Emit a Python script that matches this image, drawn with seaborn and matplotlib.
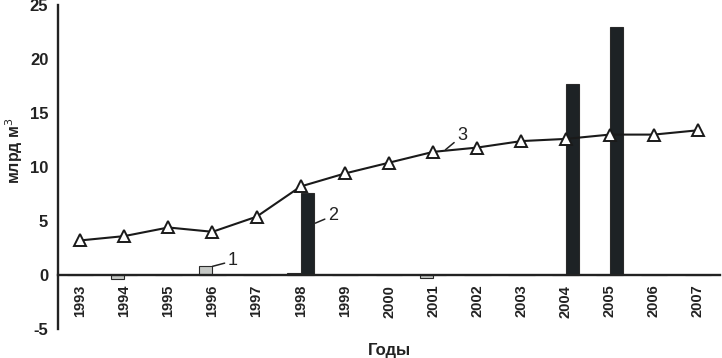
import matplotlib
matplotlib.use("Agg")
import matplotlib.pyplot as plt
import seaborn as sns
import pandas as pd
from matplotlib.ticker import FixedLocator

years = [str(y) for y in range(1993, 2008)]
series1 = [0.0, -0.4, 0.0, 0.8, 0.0, 0.15, 0.0, 0.0, -0.3, 0.0, 0.0, 0.0, 0.0, 0.0, 0.0]
series2 = [0.0, 0.0, 0.0, 0.0, 0.0, 7.6, 0.0, 0.0, 0.0, 0.0, 0.0, 17.7, 23.0, 0.0, 0.0]
series3 = [3.2, 3.6, 4.4, 4.0, 5.4, 8.2, 9.4, 10.4, 11.4, 11.8, 12.4, 12.6, 13.0, 13.0, 13.4]
series_names = ["1", "2"]

sns.set_style("white")
plt.rcParams["font.family"] = ["Liberation Sans", "DejaVu Sans"]
plt.rcParams["axes.unicode_minus"] = False

bars = pd.DataFrame({
    "year": years * 2,
    "value": series1 + series2,
    "series": [series_names[0]] * len(years) + [series_names[1]] * len(years),
})
line = pd.DataFrame({"year": years, "value": series3})

fig = plt.figure(figsize=(7.22, 3.58), dpi=100)
ax = fig.add_axes([58 / 722, 1 - 329 / 358, (720 - 58) / 722, (329 - 5) / 358])

sns.barplot(data=bars, x="year", y="value", hue="series", order=years,
            hue_order=series_names, palette=["#c4c8c4", "#1c2226"],
            width=0.6, edgecolor="#2a2a2a", linewidth=0.8, legend=False, ax=ax)
sns.pointplot(data=line, x="year", y="value", order=years, color="#1a1a1a",
              markers="^", markersize=8.5, linewidth=1.5,
              markerfacecolor="white", markeredgecolor="#1a1a1a",
              markeredgewidth=1.4, ax=ax)

ax.set_xlim(-0.5, len(years) - 0.5)
ax.set_ylim(-5, 25)
ax.set_yticks(range(-5, 26, 5))

for s in ["top", "right"]:
    ax.spines[s].set_visible(False)
ax.spines["bottom"].set_position(("data", 0))
for s in ["left", "bottom"]:
    ax.spines[s].set_linewidth(1.7)
    ax.spines[s].set_color("#222222")

ax.xaxis.set_minor_locator(FixedLocator([i + 0.5 for i in range(len(years))]))
ax.tick_params(axis="x", which="major", length=0, pad=7, labelsize=10.5,
               labelrotation=90, colors="#222222")
ax.tick_params(axis="x", which="minor", length=10, width=1.4, direction="inout",
               color="#222222")
ax.tick_params(axis="y", which="major", length=10, width=1.4, direction="inout",
               labelsize=12, colors="#222222", pad=2)
for lab in ax.get_xticklabels() + ax.get_yticklabels():
    lab.set_fontweight("bold")

ax.set_xlabel("Годы", fontsize=12, fontweight="bold", color="#222222", va="top")
ax.xaxis.set_label_coords(0.5, -0.042)
ax.set_ylabel("млрд м$^3$", fontsize=11.5, fontweight="bold", color="#222222")
ax.yaxis.set_label_coords(-0.05, 0.55)

ann_kw = dict(fontsize=13, color="#222222", ha="left", va="center",
              arrowprops=dict(arrowstyle="-", color="#222222", lw=1.1, shrinkA=0, shrinkB=0))
ax.annotate("1", xy=(3.0, 0.8), xytext=(3.35, 1.3), **ann_kw)
ax.annotate("2", xy=(5.33, 4.8), xytext=(5.62, 5.5), **ann_kw)
ax.annotate("3", xy=(8.28, 11.6), xytext=(8.55, 12.9), **ann_kw)

fig.savefig("out.png", dpi=100)
